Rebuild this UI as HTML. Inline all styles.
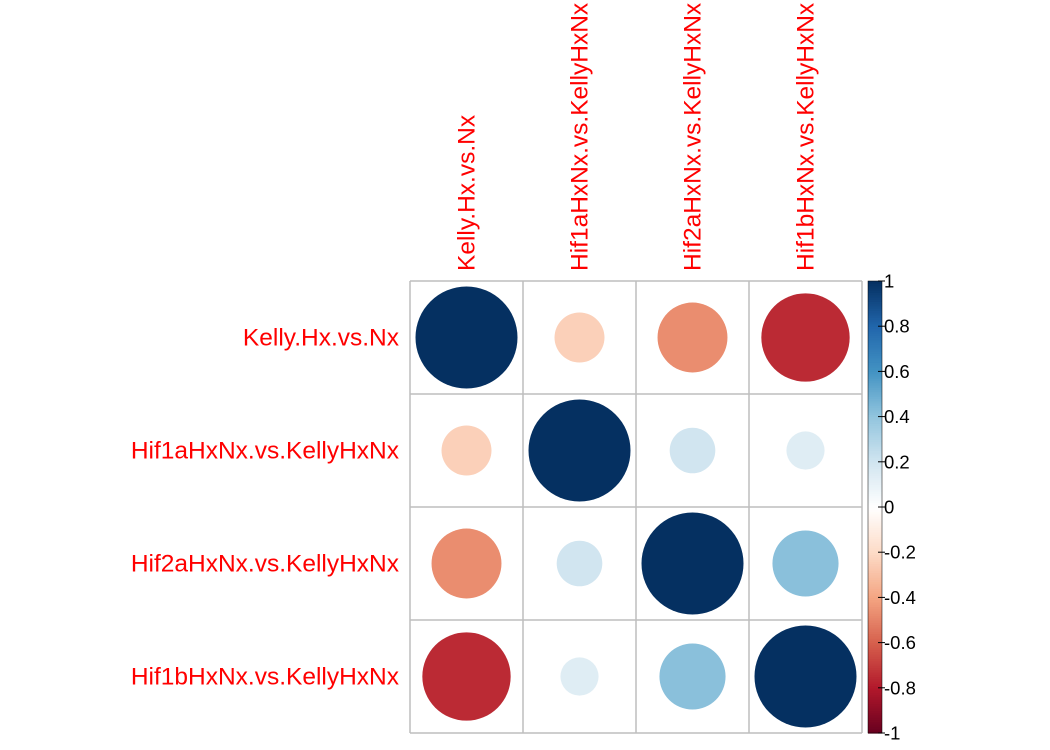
<!DOCTYPE html>
<html><head><meta charset="utf-8"><style>
html,body{margin:0;padding:0;background:#fff;}
svg{display:block;font-family:"Liberation Sans",Arial,sans-serif;}
</style></head><body>
<svg id="chart" width="1050" height="750" viewBox="0 0 1050 750"></svg>
<script>
const labels = ["Kelly.Hx.vs.Nx","Hif1aHxNx.vs.KellyHxNx","Hif2aHxNx.vs.KellyHxNx","Hif1bHxNx.vs.KellyHxNx"];
const corrRow0 = [1, -0.24, -0.47, -0.75];
const corrRow1 = [-0.24, 1, 0.2, 0.14];
const corrRow2 = [-0.47, 0.2, 1, 0.42];
const corrRow3 = [-0.75, 0.14, 0.42, 1];
const corr = [corrRow0, corrRow1, corrRow2, corrRow3];
const cbTicks = [1,0.8,0.6,0.4,0.2,0,-0.2,-0.4,-0.6,-0.8,-1];
const cbTickLabels = ["1","0.8","0.6","0.4","0.2","0","-0.2","-0.4","-0.6","-0.8","-1"];

const NS="http://www.w3.org/2000/svg";
const svg=document.getElementById('chart');
function mk(t,a){const e=document.createElementNS(NS,t);for(const k in a)e.setAttribute(k,a[k]);svg.appendChild(e);return e;}
const pal=["#67001F","#B2182B","#D6604D","#F4A582","#FDDBC7","#FFFFFF","#D1E5F0","#92C5DE","#4393C3","#2166AC","#053061"];
function hex(h){return [1,3,5].map(i=>parseInt(h.substr(i,2),16));}
function color(v){const t=(v+1)/2*(pal.length-1);const i=Math.min(Math.floor(t),pal.length-2);const f=t-i;
 const a=hex(pal[i]),b=hex(pal[i+1]);return "rgb("+a.map((x,k)=>Math.round(x+(b[k]-x)*f)).join(",")+")";}

const x0=410,y0=281,cell=113,n=labels.length,maxR=51;
const cx=j=>x0+cell*(j+0.5), cy=i=>y0+cell*(i+0.5);
for(let k=0;k<=n;k++){
 let l=mk('line',{x1:x0+k*cell,x2:x0+k*cell,y1:y0,y2:y0+n*cell,stroke:'#bebebe','stroke-width':1.5});
 
 
 l=mk('line',{x1:x0,x2:x0+n*cell,y1:y0+k*cell,y2:y0+k*cell,stroke:'#bebebe','stroke-width':1.5});
 
 
}
for(let i=0;i<n;i++)for(let j=0;j<n;j++){
 const v=corr[i][j];
 const c=mk('circle',{cx:cx(j),cy:cy(i),r:maxR*Math.sqrt(Math.abs(v)),fill:color(v)});
 
 
}
for(let i=0;i<n;i++){
 const t=mk('text',{x:399,y:cy(i)+8,'text-anchor':'end','font-size':24.5,fill:'#ff0000'});
 t.textContent=labels[i];
 
 
 const c=mk('text',{x:0,y:0,'text-anchor':'start','font-size':24.5,fill:'#ff0000',transform:'translate('+(cx(i)+8)+',271) rotate(-90)'});
 c.textContent=labels[i];
 
 
}
const cbX=868,cbW=14,cbTop=281,cbBot=733,steps=200;
const cy2=v=>cbBot-(v+1)/2*(cbBot-cbTop);
for(let s=0;s<steps;s++){
 const v1=-1+2*s/steps,v2=-1+2*(s+1)/steps;
 const r=mk('rect',{x:cbX,y:cy2(v2),width:cbW,height:cy2(v1)-cy2(v2)+0.6,fill:color((v1+v2)/2)});
 
 
}
const fr=mk('rect',{x:cbX,y:cbTop,width:cbW,height:cbBot-cbTop,fill:'none',stroke:'#000','stroke-width':0.5});


cbTicks.forEach((v,k)=>{
 const y=cy2(v);
 const l=mk('line',{x1:cbX+cbW-4,x2:cbX+cbW+3,y1:y,y2:y,stroke:'#000','stroke-width':1});
 
 
 const t=mk('text',{x:884,y:y+6.5,'font-size':18.5,fill:'#000'});
 t.textContent=cbTickLabels[k];
 
 
});
</script>
</body></html>
